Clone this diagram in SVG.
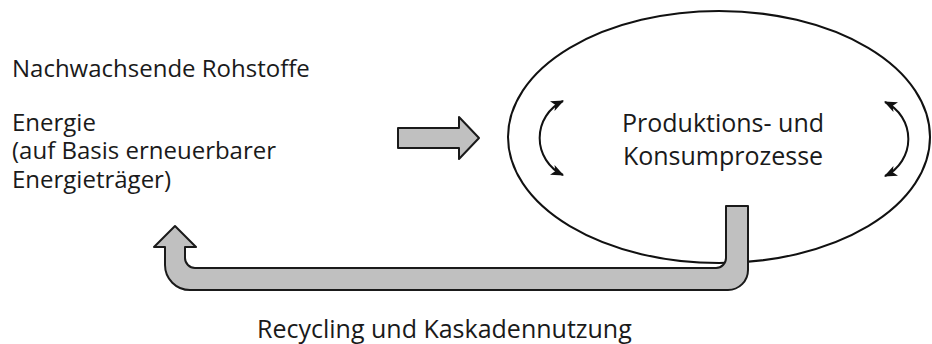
<svg xmlns="http://www.w3.org/2000/svg" width="932" height="344" viewBox="0 0 932 344">
<style>
text{font-family:"Open Sans","Noto Sans","Liberation Sans",sans-serif;font-size:24px;fill:#1a1a1a}
.big{font-size:25px}
.blk{fill:#c0c0c0;stroke:#1a1a1a;stroke-width:2;stroke-linejoin:round}
.cyc{fill:none;stroke:#111;stroke-width:2}
</style>
<defs>
<marker id="ah" viewBox="0 0 12 10" refX="11" refY="5" markerWidth="13" markerHeight="11" markerUnits="userSpaceOnUse" orient="auto-start-reverse">
<path d="M0,0 L12,5 L0,10 L3,5 Z" fill="#111"/>
</marker>
</defs>
<g id="inputs">
<text x="12" y="77">Nachwachsende Rohstoffe</text>
<text x="12" y="131">Energie</text>
<text x="12" y="159">(auf Basis erneuerbarer</text>
<text x="12" y="188">Energieträger)</text>
</g>
<g id="process">
<ellipse cx="719" cy="137" rx="211" ry="126" fill="#fff" stroke="#111" stroke-width="2"/>
<text class="big" x="723" y="132" text-anchor="middle">Produktions- und</text>
<text class="big" x="723" y="165" text-anchor="middle">Konsumprozesse</text>
</g>
<g id="connectors">
<path class="blk" d="M398,128 L459,128 L459,117 L479,138 L459,159 L459,148 L398,148 Z"/>
<path class="blk" d="M726,206 L748,206 L748,270 A20,20 0 0 1 728,290 L190,290 A25,25 0 0 1 165,265 L165,247 L154,247 L175,226 L196,247 L185,247 L185,258 A10,10 0 0 0 195,268 L716,268 A10,10 0 0 0 726,258 Z"/>
<path class="cyc" d="M563,101 A41,41 0 0 0 563,175" marker-start="url(#ah)" marker-end="url(#ah)"/>
<path class="cyc" d="M885,102 A41,41 0 0 1 885,176" marker-start="url(#ah)" marker-end="url(#ah)"/>
</g>
<g id="label">
<text class="big" x="257" y="338">Recycling und Kaskadennutzung</text>
</g>
</svg>
